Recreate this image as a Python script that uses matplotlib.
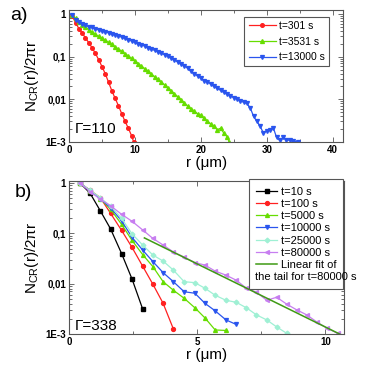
import numpy as np
import matplotlib
matplotlib.use('Agg')
import matplotlib.pyplot as plt
from matplotlib.lines import Line2D
from matplotlib.ticker import LogLocator, FixedLocator, MultipleLocator, NullFormatter

plt.rcParams['font.family'] = ['Liberation Sans', 'DejaVu Sans']
plt.rcParams['mathtext.fontset'] = 'custom'
plt.rcParams['mathtext.rm'] = 'Liberation Sans'
plt.rcParams['mathtext.it'] = 'Liberation Sans:italic'

# ---- panel a) : Gamma = 110 (values are log10 of N_CR(r)/2pi r) ----
r_301 = [0.5, 1.0, 1.5, 2.0, 2.5, 3.0, 3.5, 4.0, 4.5, 5.0, 5.5, 6.0, 6.5, 7.0,
         7.5, 8.0, 8.5, 9.0, 9.5, 9.8]
log_301 = [-0.05, -0.20, -0.34, -0.44, -0.56, -0.67, -0.79, -0.92, -1.07, -1.23,
           -1.40, -1.60, -1.80, -1.98, -2.15, -2.34, -2.52, -2.68, -2.86, -3.0]

r_3531 = [0.5, 1.0, 1.5, 2.0, 2.5, 3.0, 3.5, 4.0, 4.5, 5.0, 5.5, 6.0, 6.5, 7.0,
          7.5, 8.0, 8.5, 9.0, 9.5, 10.0, 10.5, 11.0, 11.5, 12.0, 12.5, 13.0,
          13.5, 14.0, 14.5, 15.0, 15.5, 16.0, 16.5, 17.0, 17.5, 18.0, 18.5,
          19.0, 19.5, 20.0, 20.5, 21.0, 21.5, 22.0, 22.5, 23.0, 23.5, 24.0, 24.3]
log_3531 = [-0.02, -0.10, -0.19, -0.26, -0.31, -0.36, -0.42, -0.47, -0.52, -0.57,
            -0.61, -0.66, -0.71, -0.77, -0.82, -0.87, -0.93, -0.98, -1.04, -1.10,
            -1.16, -1.22, -1.28, -1.34, -1.41, -1.47, -1.53, -1.60, -1.66, -1.73,
            -1.80, -1.87, -1.94, -2.01, -2.08, -2.16, -2.22, -2.28, -2.34, -2.38,
            -2.44, -2.52, -2.58, -2.63, -2.72, -2.68, -2.80, -2.88, -3.0]

r_13000 = [0.5, 1.0, 1.5, 2.0, 2.5, 3.0, 3.5, 4.0, 4.5, 5.0, 5.5, 6.0, 6.5, 7.0,
           7.5, 8.0, 8.5, 9.0, 9.5, 10.0, 10.5, 11.0, 11.5, 12.0, 12.5, 13.0,
           13.5, 14.0, 14.5, 15.0, 15.5, 16.0, 16.5, 17.0, 17.5, 18.0, 18.5,
           19.0, 19.5, 20.0, 20.5, 21.0, 21.5, 22.0, 22.5, 23.0, 23.5, 24.0,
           24.5, 25.0, 25.5, 26.0, 26.5, 27.0, 27.5, 28.0, 28.5, 29.0, 29.5,
           30.0, 30.5, 31.0, 31.5, 32.0, 32.5, 33.0, 33.5, 34.0, 34.7]
log_13000 = [-0.03, -0.13, -0.19, -0.23, -0.26, -0.29, -0.31, -0.34, -0.37, -0.39,
             -0.41, -0.44, -0.47, -0.49, -0.51, -0.54, -0.57, -0.60, -0.63, -0.66,
             -0.69, -0.72, -0.75, -0.79, -0.82, -0.85, -0.88, -0.92, -0.95, -0.98,
             -1.03, -1.08, -1.12, -1.16, -1.21, -1.27, -1.34, -1.40, -1.45, -1.50,
             -1.56, -1.59, -1.64, -1.70, -1.74, -1.79, -1.84, -1.88, -1.92, -1.96,
             -1.99, -2.04, -2.07, -2.10, -2.20, -2.40, -2.52, -2.63, -2.80, -2.74,
             -2.72, -2.67, -2.90, -2.97, -2.90, -2.95, -2.97, -2.99, -3.0]

# ---- panel b) : Gamma = 338 ----
r_b = [0.43, 0.82, 1.22, 1.62, 2.05, 2.46, 2.87, 3.27, 3.67, 4.07, 4.49, 4.91,
       5.30, 5.70, 6.12, 6.52, 6.92, 7.31, 7.71, 8.10, 8.50, 8.88, 9.27, 9.66,
       10.08, 10.49]
log_10 = [0.0, -0.20, -0.55, -0.91, -1.40, -1.91, -2.50]
log_100 = [0.0, -0.14, -0.29, -0.60, -0.94, -1.28, -1.65, -2.01, -2.39, -2.90]
log_5000 = [0.0, -0.15, -0.31, -0.52, -0.82, -1.14, -1.42, -1.66, -1.96, -2.13,
            -2.29, -2.48, -2.68, -2.92, -2.93]
log_10000 = [0.0, -0.15, -0.31, -0.49, -0.75, -1.08, -1.33, -1.56, -1.78, -1.96,
             -2.16, -2.19, -2.39, -2.54, -2.72, -2.81]
log_25000 = [0.0, -0.14, -0.29, -0.46, -0.70, -1.01, -1.23, -1.43, -1.55, -1.73,
             -1.96, -1.98, -2.09, -2.23, -2.33, -2.37, -2.48, -2.62, -2.72, -2.86,
             -2.99]
log_80000 = [0.0, -0.17, -0.32, -0.45, -0.62, -0.76, -0.93, -1.10, -1.23, -1.37,
             -1.47, -1.58, -1.63, -1.75, -1.83, -1.93, -2.09, -2.17, -2.33, -2.27,
             -2.41, -2.52, -2.62, -2.76, -2.89, -2.99]

# linear fit (log10 y = a + b r) of the t=80000 s tail
fit_a = -0.352
fit_b = -0.251
fit_r = [2.94, 10.62]

yticks = [1e-3, 1e-2, 1e-1, 1]
ylabels = ['1E-3', '0,01', '0,1', '1']


def style(ax):
    ax.set_yscale('log')
    ax.yaxis.set_major_locator(FixedLocator(yticks))
    ax.set_yticklabels(ylabels)
    ax.yaxis.set_minor_locator(LogLocator(base=10, subs=np.arange(2, 10)))
    ax.yaxis.set_minor_formatter(NullFormatter())
    ax.tick_params(which='both', direction='in', top=True, right=True,
                   labelsize=7, width=0.6, color='#555555', pad=2)
    ax.tick_params(which='major', length=3.5)
    ax.tick_params(which='minor', length=2)
    for lab in ax.get_xticklabels() + ax.get_yticklabels():
        lab.set_fontweight('bold')
    for sp in ax.spines.values():
        sp.set_color('#555555')
        sp.set_linewidth(0.8)
    ax.set_ylabel(r'N$_{\mathregular{CR}}$(r)/2πr', fontsize=11, labelpad=3)
    ax.set_xlabel('r (μm)', fontsize=11, labelpad=1)


fig = plt.figure(figsize=(3.74, 3.74), dpi=100)

ax1 = fig.add_axes([0.1845, 0.621, 0.733, 0.352])
ax1.plot(r_301, 10 ** np.array(log_301), '-o', color='#ff2020', ms=2.6, lw=0.9,
         label='t=301 s')
ax1.plot(r_3531, 10 ** np.array(log_3531), '-^', color='#66dd00', ms=2.8, lw=0.9,
         label='t=3531 s')
ax1.plot(r_13000, 10 ** np.array(log_13000), '-v', color='#2a55ee', ms=2.8, lw=0.9,
         label='t=13000 s')
ax1.set_xlim(0, 41.6)
ax1.set_ylim(1e-3, 1.25)
ax1.xaxis.set_major_locator(MultipleLocator(10))
ax1.xaxis.set_minor_locator(MultipleLocator(5))
style(ax1)
leg1 = ax1.legend(loc='upper left', bbox_to_anchor=(0.64, 0.95), fontsize=7.5,
                  frameon=True, fancybox=False, edgecolor='#555555', framealpha=1,
                  handlelength=2.6, handletextpad=0.3, labelspacing=0.55,
                  borderpad=0.4, borderaxespad=0)
leg1.get_frame().set_linewidth(0.8)
ax1.text(0.02, 0.1, 'Γ=110', transform=ax1.transAxes, fontsize=11, va='center')

ax2 = fig.add_axes([0.1845, 0.107, 0.735, 0.409])
ax2.plot(r_b[:len(log_10)], 10 ** np.array(log_10), '-s', color='black', ms=2.6,
         lw=0.9, label='t=10 s')
ax2.plot(r_b[:len(log_100)], 10 ** np.array(log_100), '-o', color='#ff2020', ms=2.8,
         lw=0.9, label='t=100 s')
ax2.plot(r_b[:len(log_5000)], 10 ** np.array(log_5000), '-^', color='#66dd00', ms=2.8,
         lw=0.9, label='t=5000 s')
ax2.plot(r_b[:len(log_10000)], 10 ** np.array(log_10000), '-v', color='#2a55ee',
         ms=2.8, lw=0.9, label='t=10000 s')
ax2.plot(r_b[:len(log_25000)], 10 ** np.array(log_25000), '-D', color='#9ff0d4',
         ms=2.4, lw=0.9, label='t=25000 s')
ax2.plot(r_b[:len(log_80000)], 10 ** np.array(log_80000), '-<', color='#c77ef0',
         ms=2.8, lw=0.9, label='t=80000 s')
fr = np.array(fit_r)
ax2.plot(fr, 10 ** (fit_a + fit_b * fr), '-', color='#3f9a14', lw=1.1,
         label='Linear fit of')
ax2.set_xlim(0, 10.72)
ax2.set_ylim(1e-3, 1.1)
ax2.xaxis.set_major_locator(MultipleLocator(5))
ax2.xaxis.set_minor_locator(MultipleLocator(2.5))
style(ax2)
handles, labels = ax2.get_legend_handles_labels()
handles.append(Line2D([], [], color='none'))
labels.append(' ')
leg2 = ax2.legend(handles, labels, loc='upper left', bbox_to_anchor=(0.655, 1.01),
                  fontsize=8, frameon=True, fancybox=False, edgecolor='#555555',
                  framealpha=1, handlelength=1.9, handletextpad=0.3,
                  labelspacing=0.2, borderpad=0.65, borderaxespad=0)
leg2.get_frame().set_linewidth(0.8)
ax2.text(0.02, 0.052, 'Γ=338', transform=ax2.transAxes, fontsize=11, va='center')

fig.text(10 / 374, 1 - 15 / 374, 'a)', fontsize=14, va='center')
fig.text(15 / 374, 1 - 192 / 374, 'b)', fontsize=14, va='center')

# second line of the fit label, starting under the legend handles
fig.canvas.draw()
inv = fig.transFigure.inverted()
frame_bb = leg2.get_frame().get_window_extent()
last_bb = leg2.get_texts()[-1].get_window_extent()
x0, y0 = inv.transform((frame_bb.x0 + 6, (last_bb.y0 + last_bb.y1) / 2))
fig.text(x0, y0, 'the tail for t=80000 s', fontsize=8, va='center', ha='left',
         zorder=10)

fig.savefig('out.png', dpi=100)
